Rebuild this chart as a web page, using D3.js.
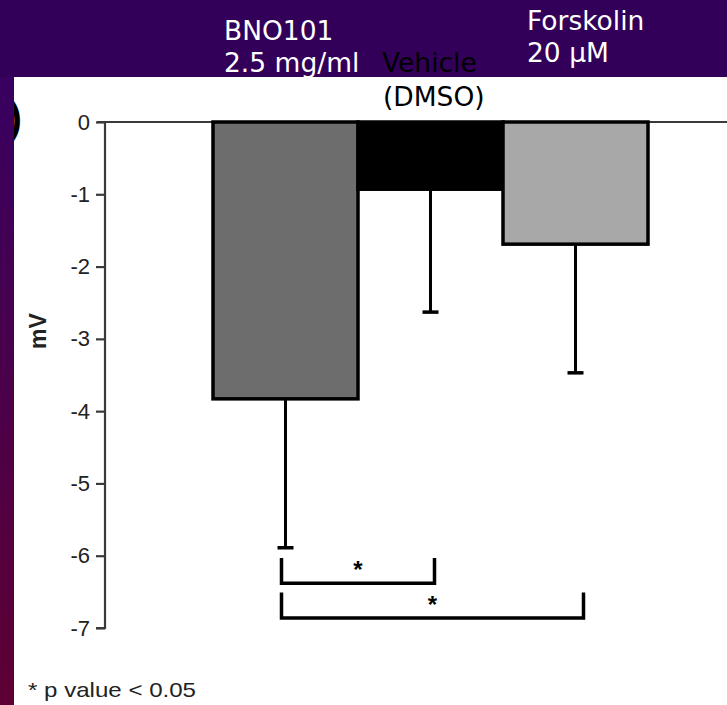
<!DOCTYPE html>
<html>
<head>
<meta charset="utf-8">
<script src="https://cdn.jsdelivr.net/npm/d3@7"></script>
<style>
  html, body { margin: 0; padding: 0; background: #330059; }
  svg { display: block; }
</style>
</head>
<body>
<svg id="chart" width="727" height="705"></svg>
<script>
// ---- data ----
const categories = ["BNO101", "Vehicle", "Forskolin"];
const topLabels = [["BNO101", "2.5 mg/ml"], ["Vehicle", "(DMSO)"], ["Forskolin", "20 µM"]];
const means = [-3.83, -0.93, -1.69];
const errors = [2.06, 1.70, 1.78];
const barColors = ["#6d6d6d", "#000000", "#a8a8a8"];
const yTicks = [0, -1, -2, -3, -4, -5, -6, -7];
const bracketFrom = [0, 0];
const bracketTo = [1, 2];
const bracketTop = [-6.03, -6.51];
const bracketBottom = [-6.38, -6.86];
const yTitle = "mV";
const footnote = "* p value < 0.05";

const svg = d3.select("#chart");
const defs = svg.append("defs");

// background
const grad = defs.append("linearGradient").attr("id", "leftGrad")
  .attr("x1", 0).attr("y1", 0).attr("x2", 0).attr("y2", 1);
grad.append("stop").attr("offset", "0%").attr("stop-color", "#380060");
grad.append("stop").attr("offset", "100%").attr("stop-color", "#5e0033");

svg.append("rect").attr("x", 0).attr("y", 0).attr("width", 727).attr("height", 705).attr("fill", "#330059");
svg.append("rect").attr("x", 0).attr("y", 77).attr("width", 14).attr("height", 628).attr("fill", "url(#leftGrad)");
svg.append("rect").attr("x", 14).attr("y", 77).attr("width", 713).attr("height", 628).attr("fill", "#ffffff");

defs.append("clipPath").attr("id", "panelClip")
  .append("rect").attr("x", 14).attr("y", 77).attr("width", 713).attr("height", 628);

// cropped panel letter remnant
svg.append("g").attr("clip-path", "url(#panelClip)")
  .append("text").attr("x", 22).attr("y", 132).attr("text-anchor", "end")
  .attr("font-family", "Liberation Sans, Arial, sans-serif").attr("font-weight", "bold")
  .attr("font-size", 42).attr("fill", "#000").text(")");

// scales
const x = d3.scaleBand().domain(categories).range([213, 648]).padding(0);
const y = d3.scaleLinear().domain([0, -7]).range([122, 628]);
const bw = x.bandwidth();

// zero line across
svg.append("line").attr("x1", 97).attr("x2", 727).attr("y1", y(0)).attr("y2", y(0))
  .attr("stroke", "#3a3a3a").attr("stroke-width", 2);

// y axis
const yAxis = d3.axisLeft(y).tickValues(yTicks).tickFormat(d3.format("d")).tickSize(9).tickPadding(6);
const gy = svg.append("g").attr("transform", "translate(105,0)").call(yAxis);
gy.select(".domain").attr("stroke", "#3a3a3a").attr("stroke-width", 2.2)
  .attr("d", `M-9,${y(-7)}H0V${y(0)}`);
gy.selectAll(".tick line").attr("stroke", "#3a3a3a").attr("stroke-width", 2.2);
gy.selectAll(".tick text").attr("font-family", "Liberation Sans, Arial, sans-serif")
  .attr("font-size", 22).attr("fill", "#222").text(d => d === 0 ? "0" : "-" + Math.abs(d));

// y title
svg.append("text").attr("transform", "translate(46,331) rotate(-90)")
  .attr("text-anchor", "middle").attr("font-family", "Liberation Sans, Arial, sans-serif")
  .attr("font-weight", "bold").attr("font-size", 23).attr("fill", "#222").text(yTitle);

// error bars (behind bars)
const eb = svg.append("g");
categories.forEach((c, i) => {
  const cx = x(c) + bw / 2;
  eb.append("line").attr("x1", cx).attr("x2", cx).attr("y1", y(means[i])).attr("y2", y(means[i] - errors[i]))
    .attr("stroke", "#000").attr("stroke-width", 3);
  eb.append("line").attr("x1", cx - 8).attr("x2", cx + 8)
    .attr("y1", y(means[i] - errors[i])).attr("y2", y(means[i] - errors[i]))
    .attr("stroke", "#000").attr("stroke-width", 3.5);
});

// bars
svg.append("g").selectAll("rect").data(categories).join("rect")
  .attr("x", d => x(d)).attr("width", bw)
  .attr("y", y(0)).attr("height", (d, i) => y(means[i]) - y(0))
  .attr("fill", (d, i) => barColors[i]).attr("stroke", "#000").attr("stroke-width", 3.5);

// significance brackets
const br = svg.append("g");
bracketFrom.forEach((f, i) => {
  const x1 = x(categories[f]) + bw / 2 - 4;
  const x2 = x(categories[bracketTo[i]]) + bw / 2 + 4 + i * 4;
  const yt = y(bracketTop[i]), yb = y(bracketBottom[i]);
  br.append("path").attr("d", `M${x1},${yt}V${yb}H${x2}V${yt}`)
    .attr("fill", "none").attr("stroke", "#000").attr("stroke-width", 3.5);
  br.append("text").attr("x", (x1 + x2) / 2).attr("y", yt + 20).attr("text-anchor", "middle")
    .attr("font-family", "Liberation Sans, Arial, sans-serif").attr("font-weight", "bold")
    .attr("font-size", 24).attr("fill", "#000").text("*");
});

// footnote
svg.append("text").attr("x", 28).attr("y", 697)
  .attr("font-family", "Liberation Sans, Arial, sans-serif").attr("font-size", 21)
  .attr("textLength", 168).attr("lengthAdjust", "spacingAndGlyphs")
  .attr("fill", "#222").text(footnote);

// top labels
const lblX = [224, 382, 527];
const lblY = [40, 72, 30];
const lblColor = ["#ffffff", "#000000", "#ffffff"];
const lblLead = [32, 34, 32];
topLabels.forEach((lines, i) => {
  const t = svg.append("text").attr("font-family", "DejaVu Sans, Verdana, sans-serif")
    .attr("font-size", 26.5).attr("fill", lblColor[i]);
  lines.forEach((s, j) => {
    t.append("tspan").attr("x", lblX[i] + (i === 1 && j === 1 ? 1 : 0))
      .attr("y", lblY[i] + j * lblLead[i]).text(s);
  });
});
</script>
</body>
</html>
